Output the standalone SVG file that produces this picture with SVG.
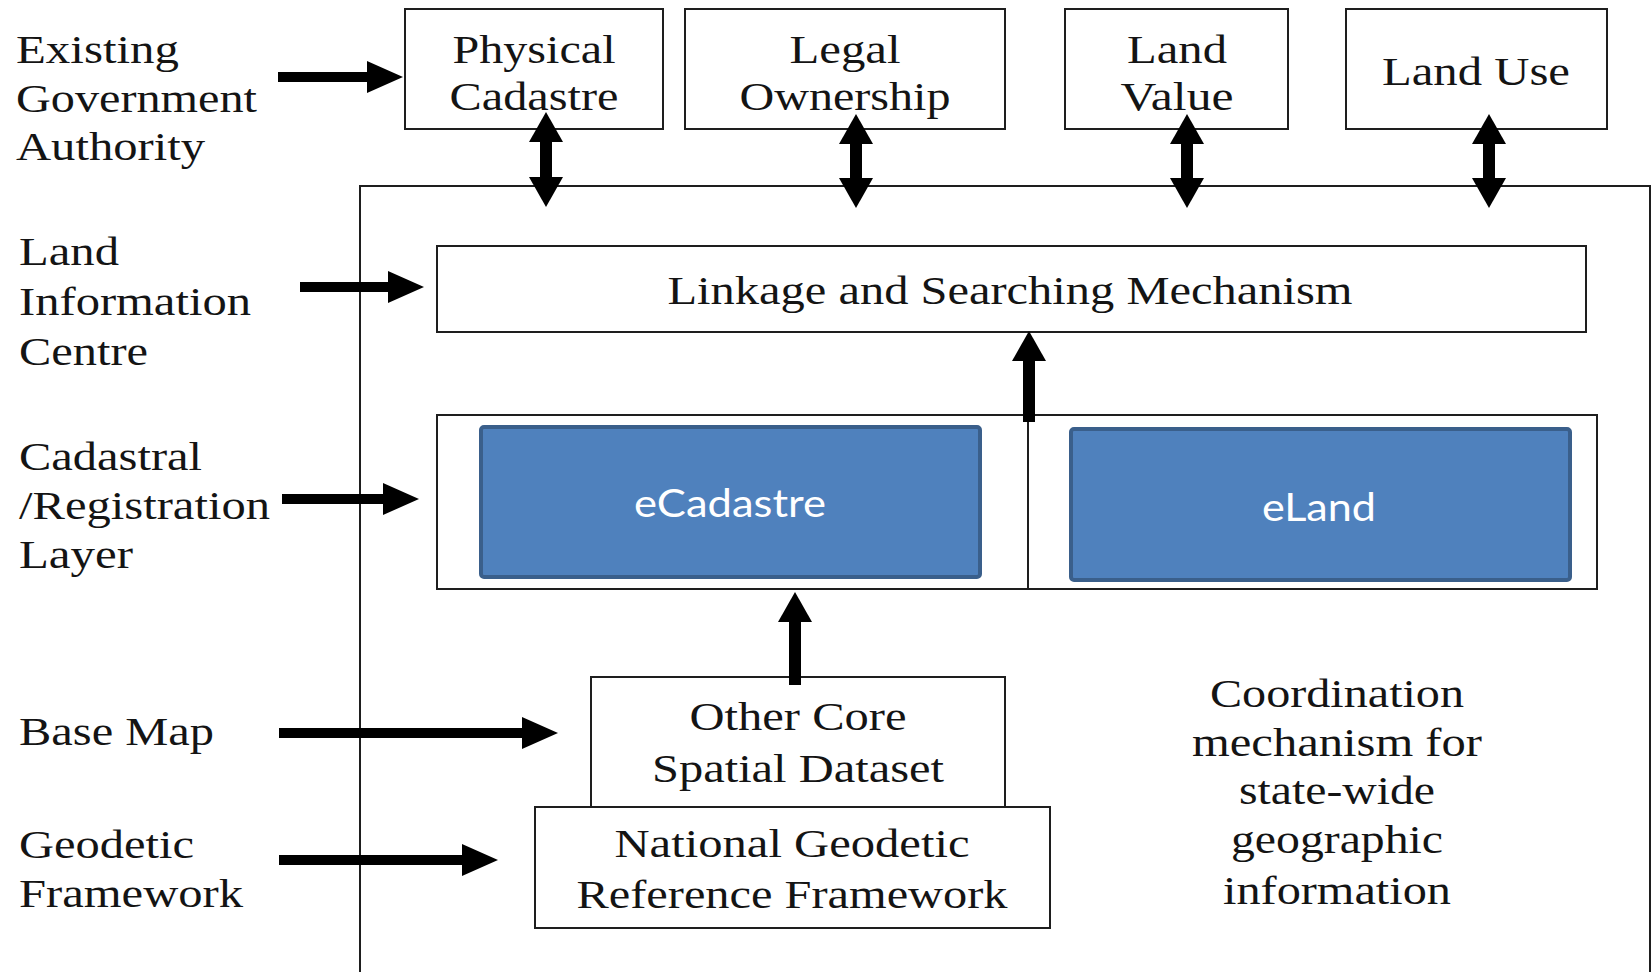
<svg xmlns="http://www.w3.org/2000/svg" width="1652" height="972" viewBox="0 0 1652 972">
<style>
.bx{fill:#fff;stroke:#1e1e1e;stroke-width:2}
.blue{fill:#4F81BD;stroke:#3A5F8B;stroke-width:4}
.t{font-family:"Liberation Serif","Times New Roman",serif;font-size:41px;fill:#141414}
.tc{text-anchor:middle}
.co{font-family:"Liberation Serif","Times New Roman",serif;font-size:40px;fill:#141414;text-anchor:middle}
.w{font-family:Lato,"Open Sans",sans-serif;font-size:39px;fill:#fff;text-anchor:middle}
.sh{stroke:#000;stroke-width:10;fill:none}
.sv{stroke:#000;stroke-width:12;fill:none}
</style>
<defs>
<marker id="ah" markerUnits="userSpaceOnUse" viewBox="0 0 36 32" markerWidth="36" markerHeight="32" refX="1" refY="16" orient="auto-start-reverse"><path d="M0,0 L36,16 L0,32 z" fill="#000"/></marker>
<marker id="av" markerUnits="userSpaceOnUse" viewBox="0 0 30 34" markerWidth="30" markerHeight="34" refX="1" refY="17" orient="auto-start-reverse"><path d="M0,0 L30,17 L0,34 z" fill="#000"/></marker>
</defs>
<rect width="1652" height="972" fill="#fff"/>

<g id="labels">
<text class="t" x="16" y="63" textLength="163" lengthAdjust="spacingAndGlyphs">Existing</text>
<text class="t" x="16" y="112" textLength="241" lengthAdjust="spacingAndGlyphs">Government</text>
<text class="t" x="16" y="160" textLength="189" lengthAdjust="spacingAndGlyphs">Authority</text>
<text class="t" x="19" y="265" textLength="100" lengthAdjust="spacingAndGlyphs">Land</text>
<text class="t" x="19" y="315" textLength="232" lengthAdjust="spacingAndGlyphs">Information</text>
<text class="t" x="19" y="365" textLength="129" lengthAdjust="spacingAndGlyphs">Centre</text>
<text class="t" x="19" y="470" textLength="183" lengthAdjust="spacingAndGlyphs">Cadastral</text>
<text class="t" x="19" y="519" textLength="251" lengthAdjust="spacingAndGlyphs">/Registration</text>
<text class="t" x="19" y="568" textLength="114" lengthAdjust="spacingAndGlyphs">Layer</text>
<text class="t" x="19" y="745" textLength="195" lengthAdjust="spacingAndGlyphs">Base Map</text>
<text class="t" x="19" y="858" textLength="175" lengthAdjust="spacingAndGlyphs">Geodetic</text>
<text class="t" x="19" y="907" textLength="224" lengthAdjust="spacingAndGlyphs">Framework</text>
</g>

<g id="coordination-frame">
<path d="M360,972 V186 H1650 V972" fill="none" stroke="#1e1e1e" stroke-width="2"/>
<text class="co" x="1337" y="707" textLength="254" lengthAdjust="spacingAndGlyphs">Coordination</text>
<text class="co" x="1337" y="756" textLength="290" lengthAdjust="spacingAndGlyphs">mechanism for</text>
<text class="co" x="1337" y="804" textLength="196" lengthAdjust="spacingAndGlyphs">state-wide</text>
<text class="co" x="1337" y="853" textLength="212" lengthAdjust="spacingAndGlyphs">geographic</text>
<text class="co" x="1337" y="904" textLength="228" lengthAdjust="spacingAndGlyphs">information</text>
</g>

<g id="physical-cadastre">
<rect class="bx" x="405" y="9" width="258" height="120"/>
<text class="t tc" x="534" y="63" textLength="163" lengthAdjust="spacingAndGlyphs">Physical</text>
<text class="t tc" x="534" y="110" textLength="169" lengthAdjust="spacingAndGlyphs">Cadastre</text>
</g>
<g id="legal-ownership">
<rect class="bx" x="685" y="9" width="320" height="120"/>
<text class="t tc" x="845" y="63" textLength="111" lengthAdjust="spacingAndGlyphs">Legal</text>
<text class="t tc" x="845" y="110" textLength="211" lengthAdjust="spacingAndGlyphs">Ownership</text>
</g>
<g id="land-value">
<rect class="bx" x="1065" y="9" width="223" height="120"/>
<text class="t tc" x="1177" y="63" textLength="100" lengthAdjust="spacingAndGlyphs">Land</text>
<text class="t tc" x="1177" y="110" textLength="113" lengthAdjust="spacingAndGlyphs">Value</text>
</g>
<g id="land-use">
<rect class="bx" x="1346" y="9" width="261" height="120"/>
<text class="t tc" x="1476" y="85" textLength="188" lengthAdjust="spacingAndGlyphs">Land Use</text>
</g>

<g id="linkage">
<rect class="bx" x="437" y="246" width="1149" height="86"/>
<text class="t tc" x="1010" y="304" textLength="685" lengthAdjust="spacingAndGlyphs">Linkage and Searching Mechanism</text>
</g>

<g id="cadastral-layer">
<rect class="bx" x="437" y="415" width="1160" height="174"/>
<line x1="1028" y1="415" x2="1028" y2="589" stroke="#1e1e1e" stroke-width="2"/>
</g>
<g id="ecadastre">
<rect class="blue" x="481" y="427" width="499" height="150" rx="3"/>
<text class="w" x="730" y="517" textLength="192" lengthAdjust="spacingAndGlyphs">eCadastre</text>
</g>
<g id="eland">
<rect class="blue" x="1071" y="429" width="499" height="151" rx="3"/>
<text class="w" x="1319" y="521" textLength="114" lengthAdjust="spacingAndGlyphs">eLand</text>
</g>

<g id="other-core">
<rect class="bx" x="591" y="677" width="414" height="130"/>
<text class="t tc" x="798" y="730" textLength="217" lengthAdjust="spacingAndGlyphs">Other Core</text>
<text class="t tc" x="798" y="782" textLength="292" lengthAdjust="spacingAndGlyphs">Spatial Dataset</text>
</g>
<g id="national-geodetic">
<rect class="bx" x="535" y="807" width="515" height="121"/>
<text class="t tc" x="792" y="857" textLength="355" lengthAdjust="spacingAndGlyphs">National Geodetic</text>
<text class="t tc" x="792" y="908" textLength="431" lengthAdjust="spacingAndGlyphs">Reference Framework</text>
</g>

<g id="connectors">
<line class="sh" x1="278" y1="77" x2="368" y2="77" marker-end="url(#ah)"/>
<line class="sh" x1="300" y1="287" x2="389" y2="287" marker-end="url(#ah)"/>
<line class="sh" x1="282" y1="499" x2="384" y2="499" marker-end="url(#ah)"/>
<line class="sh" x1="279" y1="733" x2="523" y2="733" marker-end="url(#ah)"/>
<line class="sh" x1="279" y1="860" x2="463" y2="860" marker-end="url(#ah)"/>
<line class="sv" x1="546" y1="141" x2="546" y2="178" marker-start="url(#av)" marker-end="url(#av)"/>
<line class="sv" x1="856" y1="143" x2="856" y2="179" marker-start="url(#av)" marker-end="url(#av)"/>
<line class="sv" x1="1187" y1="143" x2="1187" y2="179" marker-start="url(#av)" marker-end="url(#av)"/>
<line class="sv" x1="1489" y1="143" x2="1489" y2="179" marker-start="url(#av)" marker-end="url(#av)"/>
<line class="sv" x1="1029" y1="422" x2="1029" y2="360" marker-end="url(#av)"/>
<line class="sv" x1="795" y1="685" x2="795" y2="621" marker-end="url(#av)"/>
</g>
</svg>
